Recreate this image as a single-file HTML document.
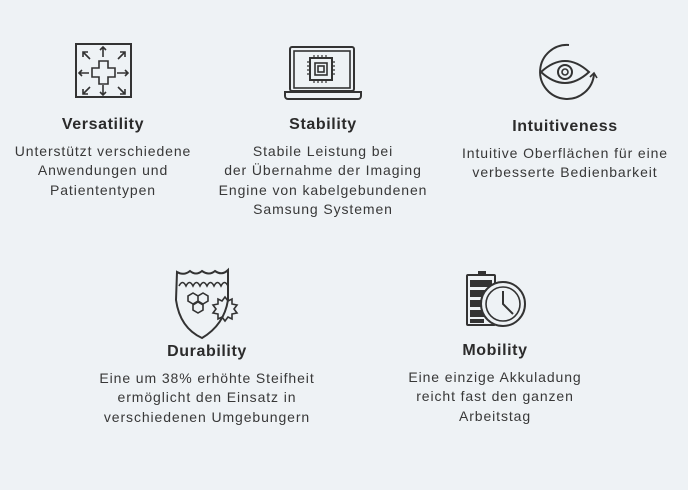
<!DOCTYPE html>
<html><head><style>
body{margin:0;width:688px;height:490px;background:#eef2f5;font-family:"Liberation Sans",sans-serif;color:#383838;position:relative;overflow:hidden}
.b{position:absolute;width:300px;text-align:center;font-size:14px;line-height:19.5px;letter-spacing:0.9px}
.t{font-weight:bold;font-size:16px;margin-bottom:7px;color:#2b2b2b;letter-spacing:0.6px}
svg{position:absolute}
</style></head><body>
<svg width="688" height="490" style="left:0;top:0" fill="none" stroke="#333" stroke-width="1.6">
<rect x="76" y="44" width="55" height="53" stroke-width="2"/>
<path d="M99 61h9v7h7v9h-7v7h-9v-7h-7v-9h7z"/>
<path d="M103 47v10M100 50l3-3 3 3M103 85v10M100 92l3 3 3-3M79 73h10M82 70l-3 3 3 3M117 73h11M125 70l3 3-3 3M83 52l7 7M83 57v-5h5M125 52l-7 7M120 52h5v5M83 94l7-7M83 89v5h5M125 94l-7-7M120 94h5v-5"/>
<rect x="290" y="47" width="64" height="44" rx="2" stroke-width="2"/>
<rect x="294" y="51" width="56" height="37"/>
<path d="M285 92h76v4a3 3 0 0 1-3 3h-70a3 3 0 0 1-3-3z" stroke-width="2"/>
<rect x="310" y="58" width="22" height="22" stroke-width="2"/>
<rect x="315" y="63" width="12" height="12"/>
<rect x="318" y="66" width="6" height="6"/>
<path d="M307 62h3M307 66h3M307 70h3M307 74h3M332 62h3M332 66h3M332 70h3M332 74h3M314 55v3M318 55v3M322 55v3M326 55v3M314 80v3M318 80v3M322 80v3M326 80v3" stroke-width="1.2"/>
<path d="M569 45a27 27 0 1 0 25 29" stroke-width="2"/>
<path d="M590 77l4-4 3 5" stroke-width="1.6"/>
<path d="M541 72q24-22 48 0q-24 22-48 0z" stroke-width="2"/>
<circle cx="565" cy="72" r="7" stroke-width="2"/>
<circle cx="565" cy="72" r="3"/>
<path d="M177 272q7 4 13-1q6 5 12 0q7 5 13 0q7 5 13-1v30q-4 25-26 38q-22-10-26-38z" stroke-width="2"/>
<path d="M179 286q3.5-7 7 0q3.5-7 7 0q3.5-7 7 0q3.5-7 7 0q3.5-7 7 0q3.5-7 7 0q3.5-7 7 0"/>
<path d="M193 293l5 3v5l-5 3-5-3v-5zM203 293l5 3v5l-5 3-5-3v-5zM198 302l5 3v5l-5 3-5-3v-5z"/>
<path d="M225 297l3 4 4-2 0 5 5 1-3 4 3 4-5 1 0 5-4-2-3 4-3-4-4 2 0-5-5-1 3-4-3-4 5-1 0-5 4 2z"/>
<rect x="478" y="271" width="8" height="4" fill="#333" stroke="none"/>
<rect x="467" y="275" width="28" height="50" rx="1" stroke-width="2"/>
<g fill="#333" stroke="none"><rect x="470" y="280" width="22" height="7"/><rect x="470" y="290" width="22" height="7"/><rect x="470" y="300" width="16" height="7"/><rect x="470" y="310" width="14" height="7"/><rect x="470" y="319" width="14" height="4"/></g>
<circle cx="503" cy="304" r="22" fill="#eef2f5" stroke-width="2"/>
<circle cx="503" cy="304" r="17"/>
<path d="M503 291v13l10 10" stroke-width="2"/>
</svg>
<div class="b" style="left:-47px;top:115px"><div class="t">Versatility</div>Unterstützt verschiedene<br>Anwendungen und<br>Patiententypen</div>
<div class="b" style="left:173px;top:115px"><div class="t">Stability</div>Stabile Leistung bei<br>der Übernahme der Imaging<br>Engine von kabelgebundenen<br>Samsung Systemen</div>
<div class="b" style="left:415px;top:117px"><div class="t">Intuitiveness</div>Intuitive Oberflächen für eine<br>verbesserte Bedienbarkeit</div>
<div class="b" style="left:57px;top:342px"><div class="t">Durability</div>Eine um 38% erhöhte Steifheit<br>ermöglicht den Einsatz in<br>verschiedenen Umgebungern</div>
<div class="b" style="left:345px;top:341px"><div class="t">Mobility</div>Eine einzige Akkuladung<br>reicht fast den ganzen<br>Arbeitstag</div>
</body></html>
